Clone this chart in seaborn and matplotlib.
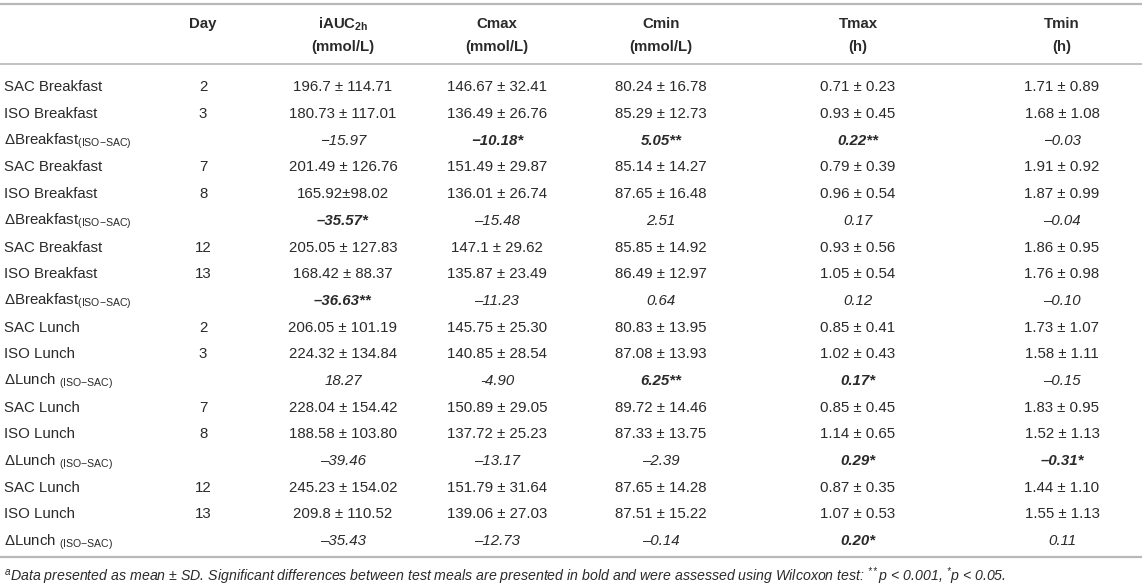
import matplotlib
matplotlib.use("Agg")
import matplotlib.pyplot as plt
import seaborn as sns

# ---------------- data ----------------
row_labels = [
    "SAC Breakfast", "ISO Breakfast", "ΔBreakfast$_{\\text{(ISO−SAC)}}$",
    "SAC Breakfast", "ISO Breakfast", "ΔBreakfast$_{\\text{(ISO−SAC)}}$",
    "SAC Breakfast", "ISO Breakfast", "ΔBreakfast$_{\\text{(ISO−SAC)}}$",
    "SAC Lunch", "ISO Lunch", "ΔLunch $_{\\text{(ISO−SAC)}}$",
    "SAC Lunch", "ISO Lunch", "ΔLunch $_{\\text{(ISO−SAC)}}$",
    "SAC Lunch", "ISO Lunch", "ΔLunch $_{\\text{(ISO−SAC)}}$",
]
days = ["2", "3", "", "7", "8", "", "12", "13", "",
        "2", "3", "", "7", "8", "", "12", "13", ""]
iauc = ["196.7 ± 114.71", "180.73 ± 117.01", "−15.97",
        "201.49 ± 126.76", "165.92±98.02", "–35.57*",
        "205.05 ± 127.83", "168.42 ± 88.37", "–36.63**",
        "206.05 ± 101.19", "224.32 ± 134.84", "18.27",
        "228.04 ± 154.42", "188.58 ± 103.80", "–39.46",
        "245.23 ± 154.02", "209.8 ± 110.52", "–35.43"]
cmax = ["146.67 ± 32.41", "136.49 ± 26.76", "−10.18*",
        "151.49 ± 29.87", "136.01 ± 26.74", "–15.48",
        "147.1 ± 29.62", "135.87 ± 23.49", "–11.23",
        "145.75 ± 25.30", "140.85 ± 28.54", "-4.90",
        "150.89 ± 29.05", "137.72 ± 25.23", "–13.17",
        "151.79 ± 31.64", "139.06 ± 27.03", "–12.73"]
cmin = ["80.24 ± 16.78", "85.29 ± 12.73", "5.05**",
        "85.14 ± 14.27", "87.65 ± 16.48", "2.51",
        "85.85 ± 14.92", "86.49 ± 12.97", "0.64",
        "80.83 ± 13.95", "87.08 ± 13.93", "6.25**",
        "89.72 ± 14.46", "87.33 ± 13.75", "–2.39",
        "87.65 ± 14.28", "87.51 ± 15.22", "–0.14"]
tmax = ["0.71 ± 0.23", "0.93 ± 0.45", "0.22**",
        "0.79 ± 0.39", "0.96 ± 0.54", "0.17",
        "0.93 ± 0.56", "1.05 ± 0.54", "0.12",
        "0.85 ± 0.41", "1.02 ± 0.43", "0.17*",
        "0.85 ± 0.45", "1.14 ± 0.65", "0.29*",
        "0.87 ± 0.35", "1.07 ± 0.53", "0.20*"]
tmin = ["1.71 ± 0.89", "1.68 ± 1.08", "−0.03",
        "1.91 ± 0.92", "1.87 ± 0.99", "–0.04",
        "1.86 ± 0.95", "1.76 ± 0.98", "–0.10",
        "1.73 ± 1.07", "1.58 ± 1.11", "–0.15",
        "1.83 ± 0.95", "1.52 ± 1.13", "–0.31*",
        "1.44 ± 1.10", "1.55 ± 1.13", "0.11"]
header_names = ["Day", "iAUC$_{\\mathbf{2h}}$", "Cmax", "Cmin", "Tmax", "Tmin"]
header_units = ["", "(mmol/L)", "(mmol/L)", "(mmol/L)", "(h)", "(h)"]
footnote = ("$^{\\mathit{a}}$Data presented as mean ± SD. Significant differences between test meals "
            "are presented in bold and were assessed using Wilcoxon test: "
            "$^{**}$p < 0.001, $^{*}$p < 0.05.")

# ---------------- style ----------------
sns.set_theme(style="white")
plt.rcParams["font.family"] = ["Liberation Sans", "DejaVu Sans"]
plt.rcParams["mathtext.fontset"] = "custom"
plt.rcParams["mathtext.rm"] = "Liberation Sans"
plt.rcParams["mathtext.it"] = "Liberation Sans:italic"
plt.rcParams["mathtext.bf"] = "Liberation Sans:bold"
plt.rcParams["mathtext.default"] = "regular"

TXT = "#2a2a2a"
LINE = "#b8b8b8"
FS = 10.8

W, H = 1145, 588
fig = plt.figure(figsize=(W / 100, H / 100), dpi=100)
ax = fig.add_axes([0, 0, 1, 1])
ax.set_xlim(0, W)
ax.set_ylim(H, 0)
ax.axis("off")

col_x = [203, 343, 497, 661, 858, 1062]
label_x = 4
row0, dy = 86, 26.7
base_off = 5.3

columns = [days, iauc, cmax, cmin, tmax, tmin]

# header
for x, name, unit in zip(col_x, header_names, header_units):
    ax.text(x, 23 + base_off, name, ha="center", va="baseline",
            fontsize=FS, fontweight="bold", color=TXT)
    if unit:
        ax.text(x, 46 + base_off, unit, ha="center", va="baseline",
                fontsize=FS, fontweight="bold", color=TXT)

# rules
ax.plot([0, 1142], [3.5, 3.5], color=LINE, lw=1.6, solid_capstyle="butt")
ax.plot([0, 1142], [64, 64], color=LINE, lw=1.2, solid_capstyle="butt")
ax.plot([0, 1142], [557, 557], color=LINE, lw=1.6, solid_capstyle="butt")

# body
for i, lab in enumerate(row_labels):
    y = row0 + i * dy + base_off
    ax.text(label_x, y, lab, ha="left", va="baseline", fontsize=FS, color=TXT)
    is_delta = lab.startswith("Δ")
    for j, col in enumerate(columns):
        s = col[i]
        if not s:
            continue
        style = "normal"
        weight = "normal"
        if is_delta and j > 0:
            style = "italic"
            if "*" in s:
                weight = "bold"
        ax.text(col_x[j], y, s, ha="center", va="baseline", fontsize=FS,
                color=TXT, fontstyle=style, fontweight=weight)

# footnote
ax.text(label_x, 581, footnote, ha="left", va="baseline", fontsize=10.2,
        color=TXT, fontstyle="italic")

fig.savefig("out.png", dpi=100)
